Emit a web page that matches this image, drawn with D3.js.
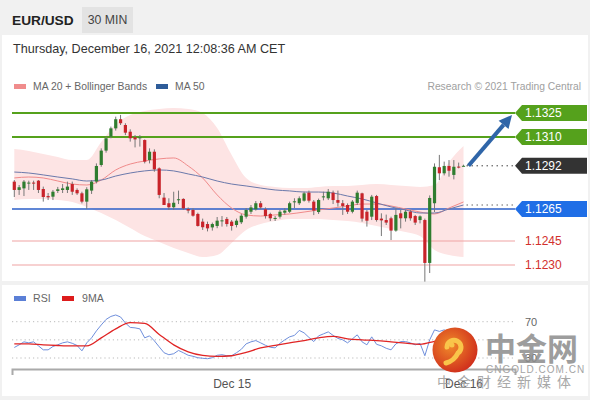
<!DOCTYPE html>
<html><head><meta charset="utf-8">
<script src="https://cdn.jsdelivr.net/npm/d3@7"></script>
<style>
html,body{margin:0;padding:0;background:#f1f1f1;}
svg{display:block;font-family:"Liberation Sans",Arial,sans-serif;}
</style></head><body>
<svg id="c" width="590" height="400"></svg>
<script>
// ---------- DATA ----------
const startTime = new Date(2021, 11, 14, 1, 30);
const open  = [1.12821,1.12769,1.12779,1.12810,1.12815,1.12827,1.12775,1.12731,1.12727,1.12763,1.12769,1.12769,1.12806,1.12769,1.12748,1.12696,1.12765,1.12821,1.12925,1.13015,1.13102,1.13154,1.13211,1.13175,1.13133,1.13098,1.13092,1.13081,1.12956,1.13008,1.12904,1.12721,1.12686,1.12661,1.12706,1.12713,1.12650,1.12644,1.12619,1.12571,1.12556,1.12535,1.12544,1.12573,1.12588,1.12571,1.12550,1.12567,1.12602,1.12633,1.12648,1.12686,1.12648,1.12619,1.12590,1.12602,1.12627,1.12633,1.12692,1.12686,1.12702,1.12752,1.12696,1.12631,1.12723,1.12717,1.12752,1.12706,1.12686,1.12675,1.12633,1.12688,1.12748,1.12633,1.12602,1.12731,1.12590,1.12581,1.12592,1.12515,1.12623,1.12592,1.12633,1.12606,1.12581,1.12581,1.12313,1.12686,1.12911,1.12873,1.12919,1.12863,1.12915,1.12920];
const high  = [1.12831,1.12800,1.12831,1.12827,1.12827,1.12831,1.12790,1.12750,1.12769,1.12788,1.12806,1.12821,1.12821,1.12779,1.12758,1.12786,1.12831,1.12935,1.13029,1.13102,1.13165,1.13227,1.13238,1.13186,1.13148,1.13112,1.13112,1.13085,1.13029,1.13023,1.12910,1.12750,1.12717,1.12758,1.12765,1.12717,1.12660,1.12654,1.12627,1.12590,1.12571,1.12565,1.12600,1.12606,1.12600,1.12581,1.12590,1.12619,1.12656,1.12675,1.12700,1.12700,1.12660,1.12627,1.12606,1.12644,1.12656,1.12696,1.12717,1.12729,1.12758,1.12765,1.12706,1.12715,1.12758,1.12775,1.12765,1.12765,1.12706,1.12685,1.12706,1.12765,1.12752,1.12644,1.12738,1.12738,1.12623,1.12615,1.12602,1.12654,1.12644,1.12644,1.12644,1.12613,1.12610,1.12590,1.12735,1.12935,1.12988,1.12946,1.12956,1.12956,1.12940,1.12927];
const low   = [1.12725,1.12738,1.12731,1.12769,1.12769,1.12750,1.12696,1.12706,1.12706,1.12750,1.12750,1.12750,1.12738,1.12738,1.12685,1.12650,1.12744,1.12810,1.12914,1.13002,1.13092,1.13140,1.13175,1.13112,1.13071,1.13035,1.13040,1.12935,1.12935,1.12883,1.12717,1.12675,1.12644,1.12644,1.12681,1.12644,1.12623,1.12602,1.12540,1.12519,1.12510,1.12515,1.12530,1.12540,1.12540,1.12515,1.12535,1.12556,1.12590,1.12619,1.12640,1.12648,1.12590,1.12575,1.12575,1.12590,1.12615,1.12625,1.12656,1.12675,1.12696,1.12690,1.12612,1.12619,1.12704,1.12706,1.12681,1.12665,1.12613,1.12619,1.12623,1.12675,1.12571,1.12540,1.12581,1.12571,1.12481,1.12550,1.12456,1.12508,1.12529,1.12571,1.12577,1.12550,1.12560,1.12196,1.12250,1.12631,1.12831,1.12860,1.12852,1.12835,1.12904,1.12917];
const close = [1.12769,1.12786,1.12821,1.12815,1.12812,1.12769,1.12725,1.12723,1.12758,1.12773,1.12779,1.12790,1.12758,1.12748,1.12696,1.12773,1.12821,1.12919,1.13015,1.13092,1.13154,1.13211,1.13186,1.13127,1.13092,1.13085,1.13098,1.12946,1.13008,1.12898,1.12738,1.12675,1.12661,1.12689,1.12711,1.12654,1.12640,1.12608,1.12544,1.12536,1.12529,1.12556,1.12577,1.12579,1.12556,1.12544,1.12577,1.12608,1.12644,1.12660,1.12686,1.12660,1.12606,1.12592,1.12594,1.12633,1.12640,1.12686,1.12698,1.12717,1.12748,1.12702,1.12640,1.12706,1.12729,1.12758,1.12706,1.12689,1.12669,1.12633,1.12696,1.12752,1.12590,1.12577,1.12727,1.12581,1.12579,1.12565,1.12515,1.12613,1.12592,1.12633,1.12592,1.12565,1.12604,1.12313,1.12719,1.12914,1.12873,1.12919,1.12889,1.12914,1.12911,1.12920];

// overlays sampled every 3rd candle
const overlayStep = 3;
const bbUpper = [1.13025,1.13013,1.12994,1.12975,1.12956,1.12956,1.13069,1.13181,1.13238,1.13263,1.13275,1.13281,1.13275,1.13250,1.13156,1.12988,1.12844,1.12800,1.12788,1.12781,1.12781,1.12788,1.12794,1.12794,1.12800,1.12806,1.12800,1.12794,1.12788,1.12800,1.12944,1.13044];
const bbLower = [1.12706,1.12713,1.12713,1.12706,1.12694,1.12663,1.12625,1.12581,1.12531,1.12481,1.12444,1.12406,1.12375,1.12350,1.12363,1.12438,1.12519,1.12556,1.12575,1.12588,1.12588,1.12588,1.12581,1.12575,1.12563,1.12544,1.12525,1.12506,1.12481,1.12394,1.12363,1.12350];
const ma20 = [1.12844,1.12850,1.12844,1.12825,1.12806,1.12800,1.12831,1.12894,1.12931,1.12950,1.12963,1.12969,1.12919,1.12844,1.12738,1.12656,1.12613,1.12606,1.12613,1.12619,1.12631,1.12644,1.12656,1.12669,1.12681,1.12681,1.12669,1.12650,1.12631,1.12619,1.12656,1.12694];
const ma50 = [1.12881,1.12875,1.12863,1.12850,1.12838,1.12825,1.12831,1.12856,1.12875,1.12888,1.12894,1.12888,1.12869,1.12850,1.12825,1.12806,1.12794,1.12781,1.12769,1.12763,1.12756,1.12756,1.12750,1.12731,1.12713,1.12688,1.12663,1.12644,1.12625,1.12625,1.12650,1.12675];

const rsi = [41.6,44.5,47.8,46.7,47.8,43.4,39.0,39.0,42.7,44.5,46.7,47.8,46.2,43.8,37.9,46.7,52.2,59.9,66.4,72.5,75.8,77.4,75.2,68.6,63.7,63.2,62.1,52.2,54.4,48.9,42.3,35.8,33.6,34.7,38.3,35.8,33.0,31.9,30.3,29.7,29.2,30.3,33.0,33.6,32.5,32.5,35.8,39.6,45.6,47.8,49.2,46.7,44.0,41.8,41.2,46.2,50.0,53.3,54.9,60.4,57.7,52.7,48.1,54.4,56.6,58.8,54.9,51.6,50.0,46.7,51.1,55.5,47.8,44.5,53.3,45.1,43.4,40.7,39.0,45.6,48.1,48.1,46.7,44.5,46.2,32.5,50.0,61.0,59.3,61.0,58.8,59.9,58.8,59.3];
const rsiMA = [45.6,45.6,44.5,43.8,43.4,43.4,52.2,62.1,69.0,68.1,56.0,44.5,36.8,32.8,31.7,32.5,36.1,41.2,44.0,46.7,49.2,52.2,53.8,51.1,50.0,49.2,47.8,46.4,45.1,48.4,52.2,54.4];
const rsiLevels = [70, 50, 30];
const rsiLabels = ["70", "", "30"];

const resistance = [1.1325, 1.1310];
const support = [1.1245, 1.1230];
const pivot = 1.1265;
const lastPrice = 1.1292;
const xTicks = [new Date(2021, 11, 15), new Date(2021, 11, 16)];

// ---------- DRAW ----------
const svg = d3.select("#c");
const n = close.length;
const times = d3.range(n).map(i => d3.timeMinute.offset(startTime, 30 * i));
const ovIdx = d3.range(0, n, overlayStep);

const x = d3.scaleTime().domain([times[0], times[n - 1]]).range([14.3, 463.5]);
const y = d3.scaleLinear().domain([1.1230, 1.1325]).range([265, 113]);
const yr = d3.scaleLinear().domain([30, 70]).range([358, 321.7]);
const xL = 12, xR = 515;

// background / panels
svg.append("rect").attr("width", 590).attr("height", 400).attr("fill", "#f1f1f1");
svg.append("rect").attr("x", 2).attr("y", 35).attr("width", 586).attr("height", 246).attr("fill", "#fff");
svg.append("rect").attr("x", 2).attr("y", 285).attr("width", 586).attr("height", 111).attr("fill", "#fff");

// header
svg.append("text").attr("x", 12).attr("y", 25).attr("font-size", 13.7).attr("font-weight", "bold").attr("fill", "#222").text("EUR/USD");
svg.append("rect").attr("x", 82).attr("y", 7).attr("width", 51).attr("height", 26).attr("fill", "#e3e3e3");
svg.append("text").attr("x", 107.5).attr("y", 24).attr("text-anchor", "middle").attr("font-size", 12.3).attr("fill", "#444").text("30 MIN");
svg.append("text").attr("x", 13).attr("y", 53).attr("font-size", 12.6).attr("fill", "#333").text("Thursday, December 16, 2021 12:08:36 AM CET");

// legend
svg.append("rect").attr("x", 14).attr("y", 84).attr("width", 12).attr("height", 5).attr("fill", "#f08c8c");
svg.append("text").attr("x", 33).attr("y", 90).attr("font-size", 10.4).attr("fill", "#666").text("MA 20 + Bollinger Bands");
svg.append("rect").attr("x", 156).attr("y", 84).attr("width", 12).attr("height", 5).attr("fill", "#2e5c99");
svg.append("text").attr("x", 175).attr("y", 90).attr("font-size", 10.4).attr("fill", "#666").text("MA 50");
svg.append("text").attr("x", 581).attr("y", 90).attr("text-anchor", "end").attr("font-size", 10.3).attr("fill", "#a0a0a0").text("Research \u00a9 2021 Trading Central");

// Bollinger band
const ovX = i => x(times[ovIdx[i]]);
svg.append("path")
  .datum(d3.range(ovIdx.length))
  .attr("fill", "#fde4e4")
  .attr("d", d3.area().curve(d3.curveMonotoneX).x(i => ovX(i)).y0(i => y(bbLower[i])).y1(i => y(bbUpper[i])));

// levels
const lvl = svg.append("g");
resistance.forEach(v => lvl.append("line").attr("x1", xL).attr("x2", xR).attr("y1", y(v)).attr("y2", y(v)).attr("stroke", "#55a11c").attr("stroke-width", 2));
support.forEach(v => lvl.append("line").attr("x1", xL).attr("x2", xR).attr("y1", y(v)).attr("y2", y(v)).attr("stroke", "#f0a3a3").attr("stroke-width", 1.2));
lvl.append("line").attr("x1", xL).attr("x2", xR).attr("y1", y(pivot)).attr("y2", y(pivot)).attr("stroke", "#2b5fc8").attr("stroke-width", 1.5);

// MA lines
svg.append("path").datum(d3.range(ovIdx.length)).attr("fill", "none").attr("stroke", "#f08a8a").attr("stroke-width", 1)
  .attr("d", d3.line().curve(d3.curveMonotoneX).x(i => ovX(i)).y(i => y(ma20[i])));
svg.append("path").datum(d3.range(ovIdx.length)).attr("fill", "none").attr("stroke", "#6b79ab").attr("stroke-width", 1)
  .attr("d", d3.line().curve(d3.curveMonotoneX).x(i => ovX(i)).y(i => y(ma50[i])));

// candles
const cg = svg.append("g");
const bw = 3.2;
d3.range(n).forEach(i => {
  const cx = x(times[i]);
  const up = close[i] >= open[i];
  cg.append("line").attr("x1", cx).attr("x2", cx).attr("y1", y(high[i])).attr("y2", y(low[i])).attr("stroke", "#777").attr("stroke-width", 1);
  const top = y(Math.max(open[i], close[i])), bot = y(Math.min(open[i], close[i]));
  cg.append("rect").attr("x", cx - bw / 2).attr("y", top).attr("width", bw).attr("height", Math.max(1, bot - top))
    .attr("fill", up ? "#2f7d2f" : "#c8232a");
});

// dotted indicators
const lastX = x(times[n - 1]);
svg.append("line").attr("x1", lastX + 3).attr("x2", xR).attr("y1", y(lastPrice)).attr("y2", y(lastPrice)).attr("stroke", "#444").attr("stroke-dasharray", "1.5,3.5");
svg.append("line").attr("x1", lastX + 3).attr("x2", xR).attr("y1", y(ma50[ma50.length - 1])).attr("y2", y(ma50[ma50.length - 1])).attr("stroke", "#666").attr("stroke-dasharray", "1.5,3.5");

// arrow
const ax1 = lastX + 5, ay1 = y(lastPrice), ax2 = 512, ay2 = y(resistance[0]) + 2;
const ang = Math.atan2(ay2 - ay1, ax2 - ax1);
const hl = 13, hw = 6.5;
const bx = ax2 - hl * Math.cos(ang), by = ay2 - hl * Math.sin(ang);
svg.append("line").attr("x1", ax1).attr("y1", ay1).attr("x2", bx).attr("y2", by).attr("stroke", "#2f65a8").attr("stroke-width", 4);
svg.append("path").attr("fill", "#2f65a8")
  .attr("d", `M${ax2},${ay2}L${bx + hw * Math.sin(ang)},${by - hw * Math.cos(ang)}L${bx - hw * Math.sin(ang)},${by + hw * Math.cos(ang)}Z`);

// price tags
function tag(v, fill) {
  const cy = y(v);
  svg.append("path").attr("fill", fill).attr("d", `M${xR},${cy}L${xR + 7},${cy - 8}L587,${cy - 8}L587,${cy + 8}L${xR + 7},${cy + 8}Z`);
  svg.append("text").attr("x", 525).attr("y", cy + 4.3).attr("font-size", 12).attr("fill", "#fff").text(v.toFixed(4));
}
resistance.forEach(v => tag(v, "#55a11c"));
tag(lastPrice, "#333333");
tag(pivot, "#1f6ee6");
support.forEach(v => svg.append("text").attr("x", 525).attr("y", y(v) + 4.3).attr("font-size", 12).attr("fill", "#d2302c").text(v.toFixed(4)));

// ---------- RSI panel ----------
svg.append("rect").attr("x", 14).attr("y", 296).attr("width", 12).attr("height", 5).attr("fill", "#5b7fd6");
svg.append("text").attr("x", 33).attr("y", 302).attr("font-size", 10.6).attr("fill", "#666").text("RSI");
svg.append("rect").attr("x", 62).attr("y", 296).attr("width", 12).attr("height", 5).attr("fill", "#dd1c1c");
svg.append("text").attr("x", 82).attr("y", 302).attr("font-size", 10.6).attr("fill", "#666").text("9MA");

rsiLevels.forEach((v, k) => {
  svg.append("line").attr("x1", xL).attr("x2", xR).attr("y1", yr(v)).attr("y2", yr(v)).attr("stroke", "#bbb").attr("stroke-dasharray", "1.2,3");
  if (rsiLabels[k]) svg.append("text").attr("x", 525).attr("y", yr(v) + 4).attr("font-size", 11).attr("fill", "#666").text(rsiLabels[k]);
});
svg.append("path").datum(rsi).attr("fill", "none").attr("stroke", "#6f8fdc").attr("stroke-width", 1)
  .attr("d", d3.line().x((d, i) => x(times[i])).y(d => yr(d)));
svg.append("path").datum(rsiMA).attr("fill", "none").attr("stroke", "#e02424").attr("stroke-width", 1.3)
  .attr("d", d3.line().curve(d3.curveMonotoneX).x((d, i) => ovX(i)).y(d => yr(d)));

// x axis
const xa = x.copy().domain([x.invert(xL), x.invert(xR)]).range([xL, xR]);
const axis = svg.append("g").attr("transform", "translate(0,369)")
  .call(d3.axisBottom(xa).tickValues(xTicks).tickFormat(d3.timeFormat("%b %d")).tickSizeInner(0).tickSizeOuter(6).tickPadding(10));
axis.select(".domain").attr("stroke", "#aaa").attr("stroke-width", 2);
axis.selectAll("text").attr("font-size", 12).attr("fill", "#555").attr("font-family", "Liberation Sans, Arial, sans-serif");

// ---------- watermark ----------
const defs = svg.append("defs");
const gr = defs.append("radialGradient").attr("id", "wg").attr("cx", "40%").attr("cy", "40%").attr("r", "65%");
gr.append("stop").attr("offset", "0%").attr("stop-color", "#f08a2a");
gr.append("stop").attr("offset", "100%").attr("stop-color", "#cf2d1c");
const wm = svg.append("g");
wm.append("circle").attr("cx", 455).attr("cy", 350).attr("r", 22.5).attr("fill", "url(#wg)");
wm.append("path").attr("fill", "none").attr("stroke", "#f9c54a").attr("stroke-width", 5).attr("stroke-linecap", "round")
  .attr("d", "M447,347 a7,7 0 1,1 11,6 q-4,8 -12,10");
wm.append("circle").attr("cx", 452).attr("cy", 345).attr("r", 2.5).attr("fill", "#f9c54a");
wm.append("text").attr("x", 485).attr("y", 360).attr("font-size", 31).attr("font-weight", "bold").attr("fill", "#8c8c8c").attr("opacity", 0.85)
  .attr("font-family", "Noto Sans CJK SC").text("中金网");
wm.append("text").attr("x", 486).attr("y", 373).attr("font-size", 10).attr("letter-spacing", 1).attr("fill", "#9a9a9a").attr("opacity", 0.9).text("CNGOLD.COM.CN");
wm.append("text").attr("x", 437).attr("y", 387).attr("font-size", 14).attr("letter-spacing", 6).attr("fill", "#999").attr("opacity", 0.85)
  .attr("font-family", "Noto Sans CJK SC").text("中金财经新媒体");
</script></body></html>
